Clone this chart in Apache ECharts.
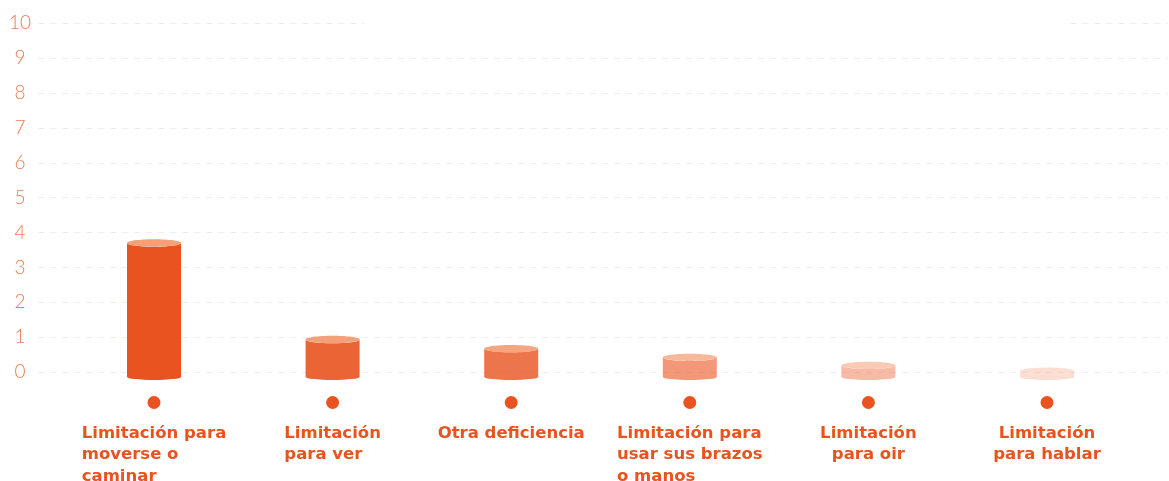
<!DOCTYPE html>
<html>
<head>
<meta charset="utf-8">
<script src="https://cdn.jsdelivr.net/npm/echarts@6/dist/echarts.min.js"></script>
<style>
  html, body { margin: 0; padding: 0; background: #fff; }
  #chart { width: 1169px; height: 481px; }
</style>
</head>
<body>
<div id="chart"></div>
<script>
// categories and their wrapped tick labels
const categories = [
    'Limitación para moverse o caminar',
    'Limitación para ver',
    'Otra deficiencia',
    'Limitación para usar sus brazos o manos',
    'Limitación para oir',
    'Limitación para hablar',
];
const labelLines = [
    ['Limitación para', 'moverse o', 'caminar'],
    ['Limitación', 'para ver'],
    ['Otra deficiencia'],
    ['Limitación para', 'usar sus brazos', 'o manos'],
    ['Limitación', 'para oir'],
    ['Limitación', 'para hablar'],
];
const values = [3.70, 0.93, 0.67, 0.42, 0.19, 0.02];

// y ticks 0..10
const yMin = 0;
const yMax = 10;
const yStep = 1;

// styling
const ORANGE = '#E9531F';
const CAP = '#F4A07A';
const labelAlign = ['left', 'left', 'center', 'left', 'center', 'center'];
const barOpacity = [1, 0.9, 0.8, 0.6, 0.4, 0.2];

const chart = echarts.init(document.getElementById('chart'));

function renderCylinder(params, api) {
    const idx = api.value(0);
    const top = api.coord([idx, api.value(1)]);
    const base = api.coord([idx, 0]);
    const w = 27;
    const cx = top[0];
    const ty = top[1];
    const by = base[1] + 5;
    const ryTop = 3.7;
    const ryBot = 3;
    const op = barOpacity[idx];
    const body = [
        'M', cx - w, ty,
        'A', w, ryTop, 0, 0, 0, cx + w, ty,
        'L', cx + w, by,
        'A', w, ryBot, 0, 0, 1, cx - w, by,
        'Z',
    ].join(' ');
    return {
        type: 'group',
        children: [
            { type: 'path', shape: { pathData: body }, style: { fill: ORANGE, opacity: op } },
            { type: 'ellipse', shape: { cx: cx, cy: ty, rx: w, ry: ryTop }, style: { fill: CAP, opacity: Math.min(1, op + 0.15) } },
        ],
    };
}

const textStyle = { fontFamily: '"DejaVu Sans", sans-serif', fontSize: 16.5, fontWeight: 'bold', color: ORANGE, lineHeight: 21.3 };

chart.setOption({
    animation: false,
    backgroundColor: '#fff',
    grid: [
        { left: 38, right: 1, top: 23.3, bottom: 109, outerBoundsMode: 'none' },
        { left: 64.7, right: 32.7, top: 23.3, bottom: 109, outerBoundsMode: 'none' },
    ],
    xAxis: [
        { gridIndex: 0, type: 'category', data: categories, show: false },
        {
            gridIndex: 1,
            type: 'category',
            data: categories,
            axisLine: { show: false },
            axisTick: { show: false },
            axisLabel: {
                interval: 0,
                margin: 10,
                formatter: (v, i) => {
                    const st = labelAlign[i] === 'left' ? 'l' : 'c';
                    return '{dot| }\n' + labelLines[i].map(s => `{${st}|${s}}`).join('\n');
                },
                rich: {
                    dot: { width: 13, height: 13, borderRadius: 6.5, backgroundColor: ORANGE, lineHeight: 41, align: 'center' },
                    l: Object.assign({ align: 'left' }, textStyle),
                    c: Object.assign({ align: 'center' }, textStyle),
                },
            },
        },
    ],
    yAxis: [
        {
            gridIndex: 0,
            type: 'value',
            min: yMin,
            max: yMax,
            interval: yStep,
            axisLine: { show: false },
            axisTick: { show: false },
            axisLabel: {
                margin: 18,
                align: 'center',
                color: '#EE7A4E',
                fontFamily: 'Lato, "Open Sans", sans-serif',
                fontWeight: 300,
                fontSize: 19,
            },
            splitLine: { lineStyle: { color: '#EEEEEE', width: 1, type: [6, 6] } },
        },
        { gridIndex: 1, type: 'value', min: yMin, max: yMax, show: false },
    ],
    graphic: [
        { type: 'rect', shape: { x: 364, y: 18, width: 705, height: 10 }, style: { fill: '#fff' }, z: 100 },
    ],
    series: [{
        type: 'custom',
        xAxisIndex: 1,
        yAxisIndex: 1,
        renderItem: renderCylinder,
        data: values.map((v, i) => [i, v]),
    }],
});
</script>
</body>
</html>
